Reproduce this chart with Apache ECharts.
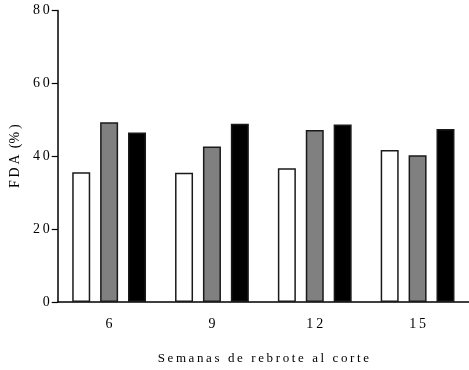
<!DOCTYPE html>
<html>
<head>
<meta charset="utf-8">
<script src="https://cdn.jsdelivr.net/npm/echarts@6/dist/echarts.min.js"></script>
<style>
  html, body { margin: 0; padding: 0; background: #fff; }
  #chart { width: 469px; height: 370px; }
</style>
</head>
<body>
<div id="chart"></div>
<script>
// Weeks of regrowth at cutting (x categories)
const weeks = ['6', '9', '12', '15'];
// FDA (%) for the three treatments in each group
const seriesWhite = [35.6, 35.5, 36.7, 41.7];
const seriesGray = [49.3, 42.7, 47.2, 40.3];
const seriesBlack = [46.5, 48.9, 48.7, 47.5];
const yTicks = [0, 20, 40, 60, 80];

// spread characters apart with thin spaces, as in the printed figure
const spaced = s => String(s).split('').join('\u2009');

const font = '"Liberation Serif", "DejaVu Serif", serif';
const axisLine = { lineStyle: { color: '#000', width: 1.5 } };

const bar = (data, color) => ({
  type: 'bar',
  data: data,
  barWidth: 18,
  barGap: '55%',
  itemStyle: { color: color, borderColor: '#1a1a1a', borderWidth: 1.5 },
  silent: true
});

const chart = echarts.init(document.getElementById('chart'));
chart.setOption({
  animation: false,
  grid: { left: 57, right: 0, top: 10.5, bottom: 67 },
  xAxis: {
    type: 'category',
    data: weeks,
    axisLine: axisLine,
    axisTick: { alignWithLabel: true, length: 5, lineStyle: { color: '#000', width: 1.2 } },
    axisLabel: { color: '#000', fontFamily: font, fontSize: 14, margin: 15, formatter: spaced },
    name: spaced('Semanas de rebrote al corte'),
    nameLocation: 'middle',
    nameGap: 50,
    nameTextStyle: { color: '#000', fontFamily: font, fontSize: 13 }
  },
  yAxis: {
    type: 'value',
    min: yTicks[0],
    max: yTicks[yTicks.length - 1],
    interval: 20,
    axisLine: { show: true, lineStyle: { color: '#000', width: 1.5 } },
    axisTick: { show: true, length: 6, lineStyle: { color: '#000', width: 1.2 } },
    splitLine: { show: false },
    axisLabel: { color: '#000', fontFamily: font, fontSize: 14, margin: 8, formatter: spaced },
    name: 'F\u2009D\u2009A\u2009 (%\u2009)',
    nameLocation: 'middle',
    nameGap: 29,
    nameTextStyle: { color: '#000', fontFamily: font, fontSize: 14 }
  },
  series: [
    bar(seriesWhite, '#ffffff'),
    bar(seriesGray, '#808080'),
    bar(seriesBlack, '#000000')
  ]
});
</script>
</body>
</html>
